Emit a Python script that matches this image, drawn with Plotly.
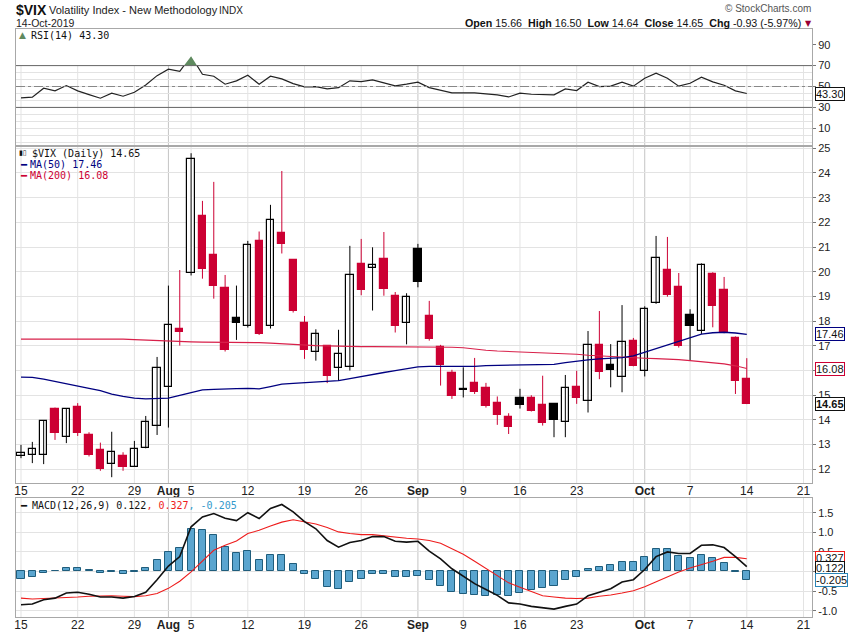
import numpy as np
import plotly.graph_objects as go

# ---- data (VIX daily, 15-Jul-2019 .. 14-Oct-2019) ----
dates = ["2019-07-15", "2019-07-16", "2019-07-17", "2019-07-18", "2019-07-19",
         "2019-07-22", "2019-07-23", "2019-07-24", "2019-07-25", "2019-07-26",
         "2019-07-29", "2019-07-30", "2019-07-31", "2019-08-01", "2019-08-02",
         "2019-08-05", "2019-08-06", "2019-08-07", "2019-08-08", "2019-08-09",
         "2019-08-12", "2019-08-13", "2019-08-14", "2019-08-15", "2019-08-16",
         "2019-08-19", "2019-08-20", "2019-08-21", "2019-08-22", "2019-08-23",
         "2019-08-26", "2019-08-27", "2019-08-28", "2019-08-29", "2019-08-30",
         "2019-09-03", "2019-09-04", "2019-09-05", "2019-09-06", "2019-09-09",
         "2019-09-10", "2019-09-11", "2019-09-12", "2019-09-13", "2019-09-16",
         "2019-09-17", "2019-09-18", "2019-09-19", "2019-09-20", "2019-09-23",
         "2019-09-24", "2019-09-25", "2019-09-26", "2019-09-27", "2019-09-30",
         "2019-10-01", "2019-10-02", "2019-10-03", "2019-10-04", "2019-10-07",
         "2019-10-08", "2019-10-09", "2019-10-10", "2019-10-11", "2019-10-14"]

opens = [12.52, 12.57, 12.57, 14.46, 13.30, 14.54, 13.39, 12.79, 12.22, 12.54,
         12.11, 12.85, 13.77, 15.35, 17.69, 19.94, 22.26, 20.68, 19.36, 18.12,
         17.82, 21.25, 17.79, 21.56, 20.48, 17.93, 16.74, 16.98, 16.09, 16.13,
         20.32, 20.14, 20.52, 19.02, 17.91, 20.92, 18.21, 16.94, 15.89, 15.23,
         15.49, 15.30, 14.69, 14.12, 14.88, 14.88, 14.60, 14.64, 13.91, 15.32,
         14.76, 17.02, 16.21, 15.73, 17.18, 15.99, 18.72, 20.07, 19.39, 18.24,
         17.59, 19.90, 19.25, 17.32, 15.66]
highs = [12.99, 13.11, 13.97, 14.50, 14.47, 14.68, 13.50, 13.08, 13.52, 12.69,
         13.15, 14.16, 16.55, 19.44, 20.07, 24.80, 22.87, 23.64, 19.87, 19.44,
         21.25, 21.63, 22.71, 24.08, 20.50, 18.21, 17.67, 17.02, 17.65, 21.05,
         21.33, 20.99, 21.61, 19.18, 19.13, 21.13, 18.82, 17.04, 16.03, 16.13,
         16.51, 15.50, 14.95, 14.27, 15.26, 15.00, 15.79, 14.66, 15.82, 15.99,
         17.60, 18.41, 17.07, 18.65, 17.32, 18.60, 21.45, 21.41, 19.95, 18.48,
         20.34, 19.98, 19.79, 17.38, 16.50]
lows = [12.45, 12.25, 12.21, 13.19, 13.06, 13.35, 12.52, 11.94, 11.68, 11.94,
        12.10, 12.85, 13.39, 13.69, 17.01, 19.85, 19.72, 18.91, 16.77, 17.24,
        17.74, 17.44, 17.70, 20.74, 18.35, 16.47, 16.40, 15.49, 15.58, 16.00,
        19.05, 18.43, 19.03, 17.54, 17.06, 19.37, 17.21, 15.39, 14.85, 14.91,
        15.05, 14.50, 13.80, 13.43, 14.46, 14.34, 13.77, 13.30, 13.30, 14.65,
        14.30, 15.65, 15.32, 15.12, 16.17, 15.76, 18.70, 18.99, 16.93, 16.40,
        17.48, 17.75, 17.51, 15.05, 14.64]
closes = [12.65, 12.81, 13.96, 13.49, 14.45, 13.46, 12.56, 12.02, 12.69, 12.11,
          12.81, 13.91, 16.09, 17.83, 17.58, 24.57, 20.13, 19.44, 16.84, 17.94,
          21.07, 17.46, 22.10, 21.14, 18.43, 16.85, 17.47, 15.76, 16.66, 19.86,
          19.28, 20.26, 19.32, 17.82, 18.98, 19.60, 17.29, 16.24, 14.95, 15.26,
          15.15, 14.58, 14.18, 13.70, 14.62, 14.38, 13.89, 14.01, 15.28, 14.87,
          17.02, 15.93, 16.04, 17.17, 16.19, 18.51, 20.55, 19.06, 17.01, 17.82,
          20.26, 18.62, 17.54, 15.57, 14.65]

ma50 = [15.73, 15.72, 15.65, 15.55, 15.45, 15.35, 15.28, 15.19, 15.04, 14.95,
        14.88, 14.85, 14.85, 14.88, 14.99, 15.12, 15.22, 15.24, 15.24, 15.27,
        15.28, 15.26, 15.35, 15.45, 15.48, 15.51, 15.53, 15.55, 15.59, 15.67,
        15.76, 15.82, 15.92, 16.00, 16.08, 16.15, 16.17, 16.17, 16.16, 16.16,
        16.17, 16.20, 16.21, 16.24, 16.25, 16.25, 16.25, 16.25, 16.32, 16.38,
        16.43, 16.47, 16.50, 16.52, 16.59, 16.74, 16.89, 17.02, 17.19, 17.32,
        17.47, 17.53, 17.55, 17.52, 17.46]
ma200 = [17.27, 17.27, 17.27, 17.28, 17.28, 17.29, 17.30, 17.29, 17.28, 17.27,
         17.25, 17.23, 17.20, 17.19, 17.17, 17.16, 17.15, 17.15, 17.14, 17.14,
         17.13, 17.13, 17.11, 17.08, 17.05, 17.04, 17.01, 17.00, 16.98, 16.98,
         16.97, 16.97, 16.97, 16.97, 16.97, 16.97, 16.97, 16.96, 16.94, 16.92,
         16.86, 16.82, 16.79, 16.77, 16.75, 16.74, 16.73, 16.71, 16.69, 16.66,
         16.62, 16.59, 16.57, 16.54, 16.51, 16.50, 16.48, 16.47, 16.44, 16.40,
         16.36, 16.32, 16.27, 16.19, 16.08]

rsi = [39.1, 39.8, 48.4, 45.8, 50.9, 45.8, 42.3, 38.8, 43.6, 40.7,
       44.5, 51.5, 60.4, 66.5, 64.6, 79.0, 61.7, 59.8, 52.2, 55.4,
       60.8, 52.2, 59.8, 57.3, 52.8, 49.6, 49.9, 47.7, 48.9, 55.4,
       54.7, 56.3, 53.4, 50.6, 52.2, 54.1, 48.9, 46.1, 43.9, 43.9,
       43.9, 42.9, 42.0, 40.0, 43.6, 42.6, 42.0, 42.0, 47.7, 46.1,
       54.1, 49.9, 50.3, 54.1, 50.3, 57.9, 62.7, 57.9, 50.3, 53.1,
       58.9, 54.4, 51.2, 45.8, 43.3]

macd = [-0.85, -0.83, -0.72, -0.68, -0.55, -0.53, -0.58, -0.65, -0.65, -0.68,
        -0.64, -0.53, -0.21, 0.14, 0.38, 1.14, 1.39, 1.48, 1.36, 1.30,
        1.50, 1.35, 1.61, 1.71, 1.52, 1.27, 1.09, 0.79, 0.62, 0.74,
        0.79, 0.89, 0.89, 0.77, 0.75, 0.77, 0.52, 0.32, 0.07, -0.12,
        -0.31, -0.46, -0.61, -0.80, -0.83, -0.89, -0.93, -0.96, -0.89, -0.83,
        -0.62, -0.53, -0.44, -0.27, -0.21, 0.05, 0.38, 0.50, 0.46, 0.46,
        0.67, 0.68, 0.61, 0.38, 0.122]
signal = [-0.68, -0.70, -0.69, -0.68, -0.67, -0.65, -0.63, -0.62, -0.62, -0.63,
          -0.64, -0.62, -0.56, -0.43, -0.25, -0.01, 0.26, 0.54, 0.67, 0.78,
          0.97, 1.05, 1.16, 1.26, 1.32, 1.26, 1.21, 1.12, 1.01, 0.97,
          0.94, 0.94, 0.91, 0.87, 0.85, 0.83, 0.79, 0.72, 0.58, 0.44,
          0.26, 0.08, -0.12, -0.29, -0.40, -0.50, -0.62, -0.65, -0.68, -0.69,
          -0.68, -0.63, -0.60, -0.55, -0.49, -0.39, -0.26, -0.12, -0.01, 0.09,
          0.17, 0.26, 0.36, 0.36, 0.327]
hist = [-0.19, -0.15, -0.04, 0.02, 0.09, 0.09, 0.05, -0.03, -0.01, -0.06,
        -0.01, 0.09, 0.30, 0.50, 0.61, 1.09, 1.07, 0.94, 0.63, 0.48,
        0.53, 0.30, 0.43, 0.43, 0.20, -0.06, -0.19, -0.39, -0.44, -0.26,
        -0.18, -0.06, -0.06, -0.15, -0.14, -0.11, -0.21, -0.37, -0.52, -0.57,
        -0.60, -0.62, -0.60, -0.62, -0.55, -0.46, -0.42, -0.37, -0.21, -0.14,
        0.07, 0.12, 0.17, 0.25, 0.25, 0.38, 0.58, 0.58, 0.40, 0.35,
        0.43, 0.35, 0.22, -0.01, -0.205]

tick_dates = ["2019-07-15", "2019-07-22", "2019-07-29", "2019-08-01", "2019-08-05",
              "2019-08-12", "2019-08-19", "2019-08-26", "2019-09-03", "2019-09-09",
              "2019-09-16", "2019-09-23", "2019-10-01", "2019-10-07", "2019-10-14",
              "2019-10-21"]
tick_labels = ["15", "22", "29", "<b>Aug</b>", "5", "12", "19", "26", "<b>Sep</b>",
               "9", "16", "23", "<b>Oct</b>", "7", "14", "21"]
week_lines = ["2019-07-15", "2019-07-22", "2019-07-29", "2019-08-05", "2019-08-12",
              "2019-08-19", "2019-08-26", "2019-09-09", "2019-09-16", "2019-09-23",
              "2019-09-30", "2019-10-07", "2019-10-14", "2019-10-21"]
month_lines = ["2019-08-01", "2019-09-03", "2019-10-01"]


def pos(d):
    # trading-day index; dates after the last bar counted in business days
    if d in dates:
        return dates.index(d)
    return len(dates) - 1 + int(np.busday_count(dates[-1], d))


n = len(dates)
xi = list(range(n))

RED = "#cc0033"
NAVY = "#000080"
GRID = "#e3e3e3"
FRAME = "#a8a8a8"

# page body margin is removed in the html (post_script), so the figure
# fills the window and screen pixels = figure pixels
W, H = 850, 633
PL, PR, PT, PB = 16, 812, 29, 617          # plot box in pixels
L, R, T, B = PL, W - PR, PT, H - PB


def px(x):
    return (x - PL) / (PR - PL)


def py(y):
    return (PB - y) / (PB - PT)


rsi_dom = [py(146), 1.0]
px_dom = [py(483), py(146)]
macd_dom = [0.0, py(498)]
rsi_rng = [-6.9, 105.0]
price_rng = [11.445, 25.093]
macd_rng = [-1.161, 1.875]
x_rng = [-0.44, 69.75]
f70 = (70 - rsi_rng[0]) / (rsi_rng[1] - rsi_rng[0])
y70 = rsi_dom[0] + f70 * (rsi_dom[1] - rsi_dom[0])

fig = go.Figure()

# ---- RSI panel ----
fig.add_trace(go.Scatter(x=xi, y=rsi, xaxis="x", yaxis="y4", mode="lines",
                         line=dict(width=0, color="#5f8a5f"), fill="tozeroy",
                         fillcolor="#5f8a5f", hoverinfo="skip"))
fig.add_trace(go.Scatter(x=xi, y=rsi, xaxis="x", yaxis="y", mode="lines",
                         line=dict(color="#222222", width=1.2)))

# ---- candles ----
up_prev = [True] + [closes[i] >= closes[i - 1] for i in range(1, n)]
for col, flag in (("#000000", True), (RED, False)):
    wx, wy = [], []
    for i in range(n):
        if up_prev[i] == flag:
            wx += [i, i, None]
            wy += [lows[i], highs[i], None]
    fig.add_trace(go.Scatter(x=wx, y=wy, xaxis="x2", yaxis="y2", mode="lines",
                             line=dict(color=col, width=1), hoverinfo="skip"))

for col, flag in (("#000000", True), (RED, False)):
    for hollow in (True, False):
        idx = [i for i in range(n)
               if up_prev[i] == flag and (closes[i] > opens[i]) == hollow]
        if not idx:
            continue
        fig.add_trace(go.Bar(
            x=idx,
            y=[max(abs(closes[i] - opens[i]), 0.03) for i in idx],
            base=[min(closes[i], opens[i]) for i in idx],
            width=0.64, xaxis="x2", yaxis="y2",
            marker=dict(color="white" if hollow else col,
                        line=dict(color=col, width=1.2))))

fig.add_trace(go.Scatter(x=xi, y=ma200, xaxis="x2", yaxis="y2", mode="lines",
                         line=dict(color="#d8204a", width=1.1)))
fig.add_trace(go.Scatter(x=xi, y=ma50, xaxis="x2", yaxis="y2", mode="lines",
                         line=dict(color=NAVY, width=1.3)))

# ---- MACD panel ----
fig.add_trace(go.Bar(x=xi, y=hist, width=0.62, xaxis="x3", yaxis="y3",
                     marker=dict(color="#5aa5cf", line=dict(color="#1f5d7c", width=1))))
fig.add_trace(go.Scatter(x=xi, y=signal, xaxis="x3", yaxis="y3", mode="lines",
                         line=dict(color="#ee1c1c", width=1.1)))
fig.add_trace(go.Scatter(x=xi, y=macd, xaxis="x3", yaxis="y3", mode="lines",
                         line=dict(color="#111111", width=1.6)))

# ---- axes ----
tv = [pos(d) for d in tick_dates]
xcommon = dict(range=x_rng, showgrid=False, zeroline=False, showline=True,
               mirror=True, linecolor=FRAME, linewidth=1, tickvals=tv,
               ticktext=tick_labels, ticks="", fixedrange=True, automargin=False,
               ticklabelstandoff=-3,
               tickfont=dict(family="Liberation Sans", size=12, color="#222"))
ycommon = dict(side="right", showline=True, mirror=True, linecolor=FRAME,
               showgrid=True, gridcolor=GRID, zeroline=False, ticks="outside",
               ticklen=3, tickcolor="#777", fixedrange=True, automargin=False,
               tickfont=dict(family="Liberation Sans", size=11, color="#222"))

fig.update_layout(
    template="none",
    width=W, height=H, margin=dict(l=L, r=R, t=T, b=B, autoexpand=False),
    paper_bgcolor="white", plot_bgcolor="white", showlegend=False,
    barmode="overlay", bargap=0,
    xaxis=dict(xcommon, anchor="y", showticklabels=False),
    xaxis2=dict(xcommon, anchor="y2"),
    xaxis3=dict(xcommon, anchor="y3"),
    yaxis=dict(ycommon, domain=rsi_dom, range=rsi_rng, anchor="x",
               tickvals=[10, 30, 50, 70, 90],
               minor=dict(dtick=20 / 3, tick0=10, showgrid=True, gridcolor=GRID)),
    yaxis4=dict(domain=[y70, rsi_dom[1]], range=[70, rsi_rng[1]], anchor="x",
                visible=False, fixedrange=True),
    yaxis2=dict(ycommon, domain=px_dom, range=price_rng, anchor="x2",
                tickvals=list(range(12, 26))),
    yaxis3=dict(ycommon, domain=macd_dom, range=macd_rng, anchor="x3",
                tickvals=[-1.0, -0.5, 0.0, 0.5, 1.0, 1.5],
                ticktext=["-1.0", "-0.5", "", "0.5", "1.0", "1.5"]),
)

# vertical grid lines (weekly light, month starts darker)
shapes = []
for xa, ya in (("x", "y"), ("x2", "y2"), ("x3", "y3")):
    for d in week_lines:
        shapes.append(dict(type="line", xref=xa, yref=ya + " domain", x0=pos(d), x1=pos(d),
                           y0=0, y1=1, layer="below", line=dict(color=GRID, width=1)))
    for d in month_lines:
        shapes.append(dict(type="line", xref=xa, yref=ya + " domain", x0=pos(d), x1=pos(d),
                           y0=0, y1=1, layer="below", line=dict(color="#c4c4c4", width=1)))
# RSI 70/30 bands and 50 midline
for lvl, dash, c in ((70, "solid", "#666"), (30, "solid", "#666"), (50, "dashdot", "#888")):
    shapes.append(dict(type="line", xref="x domain", yref="y", x0=0, x1=1, y0=lvl, y1=lvl,
                       line=dict(color=c, width=1, dash=dash)))
fig.update_layout(shapes=shapes)

# ---- text ----
ann = []
MONO = "DejaVu Sans Mono"
SANS = "Liberation Sans"


def txt(x, y, s, size=10, color="#222", family=MONO, anchor="left"):
    ann.append(dict(xref="paper", yref="paper", x=px(x), y=py(y), text=s,
                    showarrow=False, xanchor=anchor, yanchor="middle",
                    borderpad=0, font=dict(family=family, size=size, color=color)))


txt(15, 10, "<b>$VIX</b>", 14, "#111", SANS)
txt(48, 10, "Volatility Index - New Methodology", 11, "#222", SANS)
txt(218, 10, "INDX", 10, "#222", SANS)
txt(15, 23, "14-Oct-2019", 10.5, "#222", SANS)
txt(812, 9, "© StockCharts.com", 10, "#555", SANS, "right")
txt(802, 23, "<b>Open</b> 15.66  <b>High</b> 16.50  <b>Low</b> 14.64  "
             "<b>Close</b> 14.65  <b>Chg</b> -0.93 (-5.97%)", 10.7, "#111",
    SANS, "right")
txt(804, 23, "▼", 8, "#990033", "DejaVu Sans")

txt(18, 35, "▲", 9, "#5f8a5f", "DejaVu Sans")
txt(30, 35, "RSI(14) 43.30", 10, "#111")
txt(18, 153, "▮▯", 7, "#111", "DejaVu Sans")
txt(31, 153, "$VIX (Daily) 14.65", 10, "#111")
txt(19, 164, "━", 10, NAVY)
txt(29, 164, "MA(50) 17.46", 10, NAVY)
txt(19, 175, "━", 10, RED)
txt(29, 175, "MA(200) 16.08", 10, RED)
txt(19, 505, "━", 10, "#111")
txt(31, 505, "MACD(12,26,9) 0.122<span style='color:#ee1c1c'>, 0.327</span>"
             "<span style='color:#3399cc'>, -0.205</span>", 10, "#111")

# value tags on the right edge
for ya, val, s, c, bold, ysh in (("y", 43.3, "43.30", "#111", False, 0),
                                  ("y2", 17.46, "17.46", NAVY, False, 0),
                                  ("y2", 16.08, "16.08", RED, False, 0),
                                  ("y2", 14.65, "14.65", "#111", True, 0),
                                  ("y3", 0.327, "0.327", "#ee1c1c", False, 1),
                                  ("y3", 0.122, "0.122", "#111", False, -1),
                                  ("y3", -0.205, "-0.205", "#2a86b8", False, 0)):
    ann.append(dict(xref="paper", yref=ya, x=1, y=val, xanchor="left", yanchor="middle",
                    xshift=3, yshift=ysh, showarrow=False,
                    text="<b>%s</b>" % s if bold else s,
                    bgcolor="white", bordercolor=c, borderwidth=1, borderpad=0,
                    font=dict(family=SANS, size=11, color="#111")))
fig.update_layout(annotations=ann)

fig.write_html("out.html", config={"displayModeBar": False},
               post_script="document.body.style.margin = '0px';")
